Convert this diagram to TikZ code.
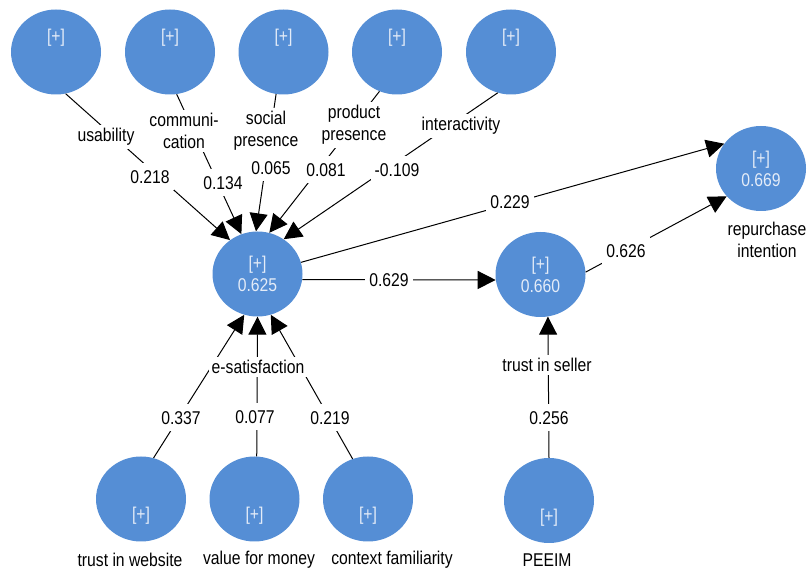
\documentclass[tikz,border=0pt]{standalone}
\usepackage{fontspec}
\setmainfont[FakeStretch=0.85]{Liberation Sans}
\usepackage{tikz}
\usetikzlibrary{arrows.meta,shapes.geometric}
\definecolor{lvblue}{RGB}{85,142,213}
\definecolor{lvtext}{RGB}{228,236,248}
\tikzset{
  lv/.style={ellipse,fill=lvblue,minimum width=90pt,minimum height=85pt,inner sep=0pt,text=lvtext,align=center},
  plus/.style={text=lvtext,inner sep=0pt},
  lvtop/.style={lv,label={[plus,yshift=14pt]center:[+]}},
  lvbot/.style={lv,label={[plus,yshift=-17pt]center:[+]}},
  lvname/.style={fill=white,inner sep=3pt,align=center},
  coef/.style={fill=white,inner xsep=4pt,inner ysep=7pt,text height=13pt,text depth=0pt}
}

\begin{document}
\begin{tikzpicture}[x=1pt,y=-1pt,font=\fontsize{18.5}{22}\selectfont]
\useasboundingbox (0,0) rectangle (807,569);

% latent variables
\node[lvtop] (usab) at (56,52) {};
\node[lvtop] (comm) at (170,52) {};
\node[lvtop] (soc) at (283.5,52) {};
\node[lvtop] (prod) at (397,52) {};
\node[lvtop] (inter) at (511,52) {};
\node[lv] (esat) at (257.5,274) {[+]\\0.625};
\node[lv] (tr) at (540.5,274.5) {[+]\\0.660};
\node[lv] (rep) at (761,168.5) {[+]\\0.669};
\node[lvbot] (tw) at (141,499) {};
\node[lvbot] (vm) at (254.5,499) {};
\node[lvbot] (cf) at (368,499) {};
\node[lvbot] (peeim) at (549,500.5) {};

% paths
\begin{scope}[>={Triangle[length=18pt,width=18pt]},
              every edge/.style={draw=black,line width=1pt}]
    \path [->] (usab.-77) edge (esat.129);
    \path [->] (comm.-81) edge (esat.112);
    \path [->] (soc.-100) edge (esat.92);
    \path [->] (prod.-114) edge (esat.74);
    \path [->] (inter.-108) edge (esat.53);
    \path [->] (tw.73) edge (esat.-108);
    \path [->] (vm.87) edge (esat.-90);
    \path [->] (cf.111) edge (esat.-72);
    \path [->] (esat.15) edge (rep.146);
    \path [->] (esat.-7) edge (tr.187);
    \path [->] (tr.3) edge (rep.219);
    \path [->] (peeim.north) edge (tr.-80);
\end{scope}

% names
\node[lvname] (nusab) at (106,137) {usability};
\node[lvname] (ncomm) at (184,131) {communi-\\cation};
\node[lvname] (nsoc) at (266,131) {social\\presence};
\node[lvname] (nprod) at (354,125) {product\\presence};
\node[lvname] (ninter) at (461,126) {interactivity};
\node[lvname] (nrep) at (767,240) {repurchase\\intention};
\node[lvname] (nesat) at (258,367) {e-satisfaction};
\node[lvname] (ntr) at (547,365) {trust in seller};
\node[lvname] (ntw) at (130,560) {trust in website};
\node[lvname] (nvm) at (259,560) {value for money};
\node[lvname] (ncf) at (392,560) {context familiarity};
\node[lvname] (npeeim) at (547,560) {PEEIM};

% coefficients
\node[coef] (c1) at (150,177) {0.218};
\node[coef] (c2) at (223,183) {0.134};
\node[coef] (c3) at (271,168) {0.065};
\node[coef] (c4) at (326,170) {0.081};
\node[coef] (c5) at (397,170) {-0.109};
\node[coef] (c6) at (510,202) {0.229};
\node[coef] (c7) at (389,280) {0.629};
\node[coef] (c8) at (626,251) {0.626};
\node[coef] (c9) at (181,418) {0.337};
\node[coef] (c10) at (255,417) {0.077};
\node[coef] (c11) at (330,418) {0.219};
\node[coef] (c12) at (549,418) {0.256};
\end{tikzpicture}
\end{document}
